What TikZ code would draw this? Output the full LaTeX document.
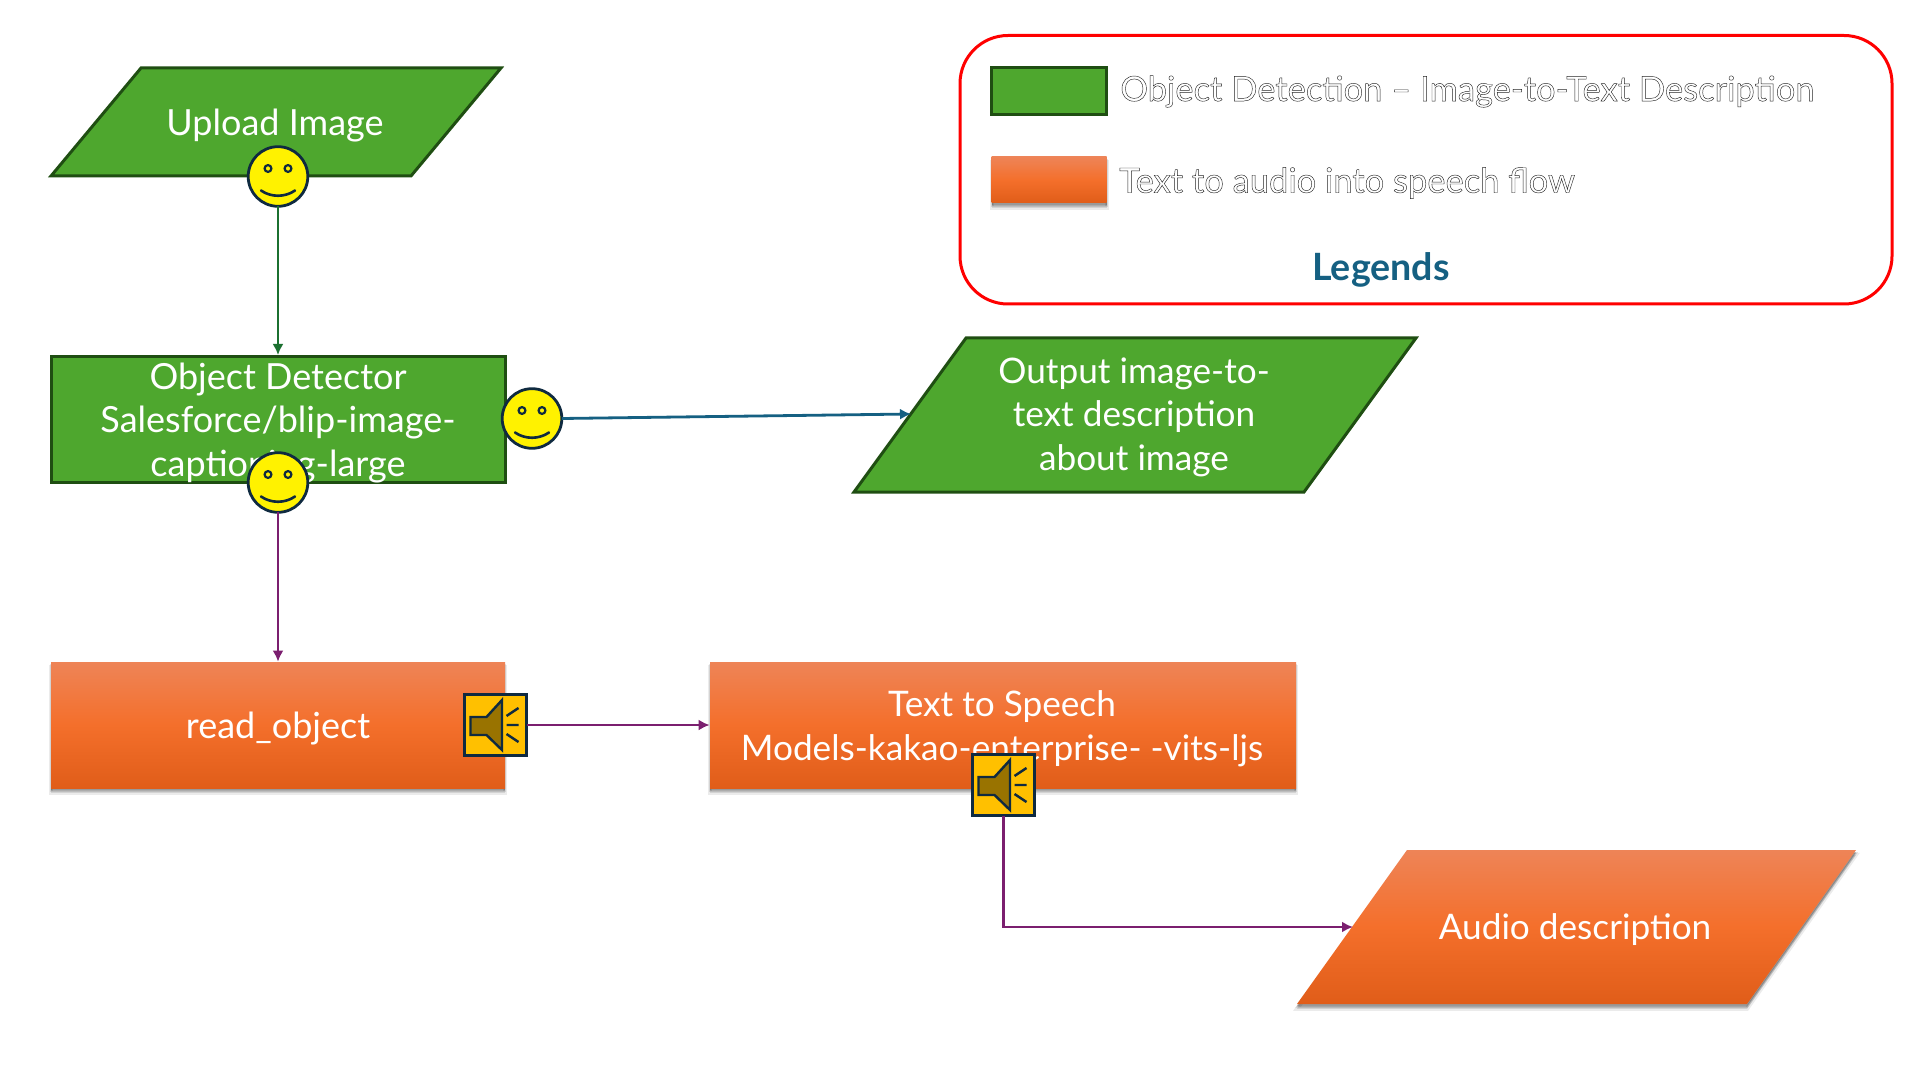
\documentclass[tikz,border=0pt]{standalone}
\usepackage{fontspec}
\setmainfont{Lato}
\usetikzlibrary{arrows.meta,shapes.geometric}
\definecolor{gfill}{HTML}{4EA72E}
\definecolor{gline}{HTML}{1F4E12}
\definecolor{otop}{HTML}{EE8457}
\definecolor{omid}{HTML}{F46F2B}
\definecolor{obot}{HTML}{E05D19}
\definecolor{navy}{HTML}{0F2A40}
\definecolor{arrgreen}{HTML}{1B7030}
\definecolor{arrblue}{HTML}{156082}
\definecolor{arrpurple}{HTML}{7B1F6F}
\definecolor{spk}{HTML}{FFC000}
\definecolor{spkin}{HTML}{997300}
\tikzset{
  greenbox/.style={draw=gline,line width=1.5pt,fill=gfill},
  orshadow/.style={preaction={draw=black,line width=2pt,draw opacity=.08,fill=black,fill opacity=.10,transform canvas={yshift=-2.4pt}},
                   preaction={draw=black,line width=1pt,draw opacity=.10,fill=black,fill opacity=.16,transform canvas={yshift=-1.6pt}},
                   preaction={fill=black,fill opacity=.2,transform canvas={yshift=-1pt}}},
  orangebox/.style={orshadow,top color=otop,bottom color=obot,middle color=omid},
  label/.style={text=white,align=center,font=\fontsize{18}{21.75}\selectfont},
  labelb/.style={text=white,align=center,font=\fontsize{17.6}{21.75}\selectfont},
  conn/.style={line width=1.4pt,-{Latex[length=5.5pt,width=5.5pt]}},
}
\newcommand{\smileface}[3]{%
  \node[circle,draw=navy,line width=1.4pt,fill=yellow,minimum size=29.8pt,inner sep=0pt,outer sep=0pt] (#1) at (#2,#3) {};
  \draw[navy,line width=1.1pt] (#2-10,#3-8) circle[radius=1.7pt] (#2+10,#3-8) circle[radius=1.7pt];
  \draw[navy,line width=1.3pt,line cap=round] (#2-17,#3+14) .. controls (#2-7,#3+21) and (#2+7,#3+21) .. (#2+17,#3+14);
}
\newcommand{\speakerbox}[3]{%
  \node[rectangle,draw=navy,line width=1.5pt,fill=spk,minimum width=31pt,minimum height=30.5pt,inner sep=0pt,outer sep=0pt] (#1) at (#2,#3) {};
  \draw[navy,line width=1.2pt,fill=spkin,line join=miter] (#2-25,#3-8) -- (#2-9,#3-8) -- (#2+6.5,#3-25) -- (#2+6.5,#3+25) -- (#2-9,#3+10) -- (#2-25,#3+10) -- cycle;
  \draw[navy,line width=1.2pt] (#2+11,#3-9) -- (#2+23,#3-17) (#2+11,#3) -- (#2+23,#3) (#2+11,#3+9) -- (#2+23,#3+17);
}
\newcommand{\outlinetext}[1]{\special{pdf:code q 2 Tr 0.22 w 0.15 G 1 g}#1\special{pdf:code Q}}
\begin{document}
\begin{tikzpicture}[x=0.5pt,y=-0.5pt]
\useasboundingbox (0,0) rectangle (1920,1080);
\fill[white] (0,0) rectangle (1920,1080);
% legend
\draw[red,line width=1.5pt,fill=white,rounded corners=24pt] (960,35.5) rectangle (1892,304);
\node[rectangle,greenbox,minimum width=57.5pt,minimum height=23.5pt,inner sep=0pt] (lg) at (1049,91.5) {};
\node[rectangle,orangebox,minimum width=57.5pt,minimum height=23pt,inner sep=0pt] (lo) at (1049,180) {};
\node[anchor=west,inner sep=0pt,font=\fontsize{17.25}{21}\selectfont] (lt1) at (1120,91.5) {\outlinetext{Object Detection – Image-to-Text Description}};
\node[anchor=west,inner sep=0pt,font=\fontsize{17.25}{21}\selectfont] (lt2) at (1119,183) {\outlinetext{Text to audio into speech flow}};
\node[inner sep=0pt,text=arrblue,font=\fontsize{18.8}{21}\selectfont\bfseries] (lt3) at (1381,270) {Legends};
% flow shapes
\draw[greenbox] (51,176) -- (141,68) -- (501,68) -- (411,176) -- cycle;
\node[label] (upload) at (275,126) {Upload Image};
\node[rectangle,greenbox,minimum width=227pt,minimum height=63pt,inner sep=0pt] (det) at (278,419.5) {};
\node[label] (dettext) at (278,423) {Object Detector\\Salesforce/blip-image-\\captioning-large};
\draw[greenbox] (854,492) -- (966,338) -- (1416,338) -- (1304,492) -- cycle;
\node[labelb] (out) at (1134,417) {Output image-to-\\text description\\about image};
\coordinate (outW) at (911,414);
\node[rectangle,orangebox,minimum width=227pt,minimum height=63pt,inner sep=0pt] (read) at (278,725) {};
\node[label] (readtext) at (278,728.5) {read\_object};
\node[rectangle,orangebox,minimum width=293pt,minimum height=63pt,inner sep=0pt] (tts) at (1003,725) {};
\node[labelb] (ttstext) at (1002,728.5) {Text to Speech\\Models-kakao-enterprise- -vits-ljs};
\path[orangebox] (1297,1004) -- (1407,850) -- (1856,850) -- (1747,1004) -- cycle;
\node[labelb] (audio) at (1575,929.5) {Audio description};
\coordinate (audW) at (1353,927);
% badges
\smileface{s1}{278}{176.5}
\smileface{s2}{532}{418.5}
\smileface{s3}{278}{482.5}
\speakerbox{k1}{495.5}{725}
\speakerbox{k2}{1003.5}{785}
% connectors
\draw[conn,arrgreen] (s1.south) -- (det.north);
\draw[conn,arrblue] (s2.east) -- (outW);
\draw[conn,arrpurple] (s3.south) -- (read.north);
\draw[conn,arrpurple] (k1.east) -- (tts.west);
\draw[conn,arrpurple] (k2.south) |- (audW);
\end{tikzpicture}
\end{document}
